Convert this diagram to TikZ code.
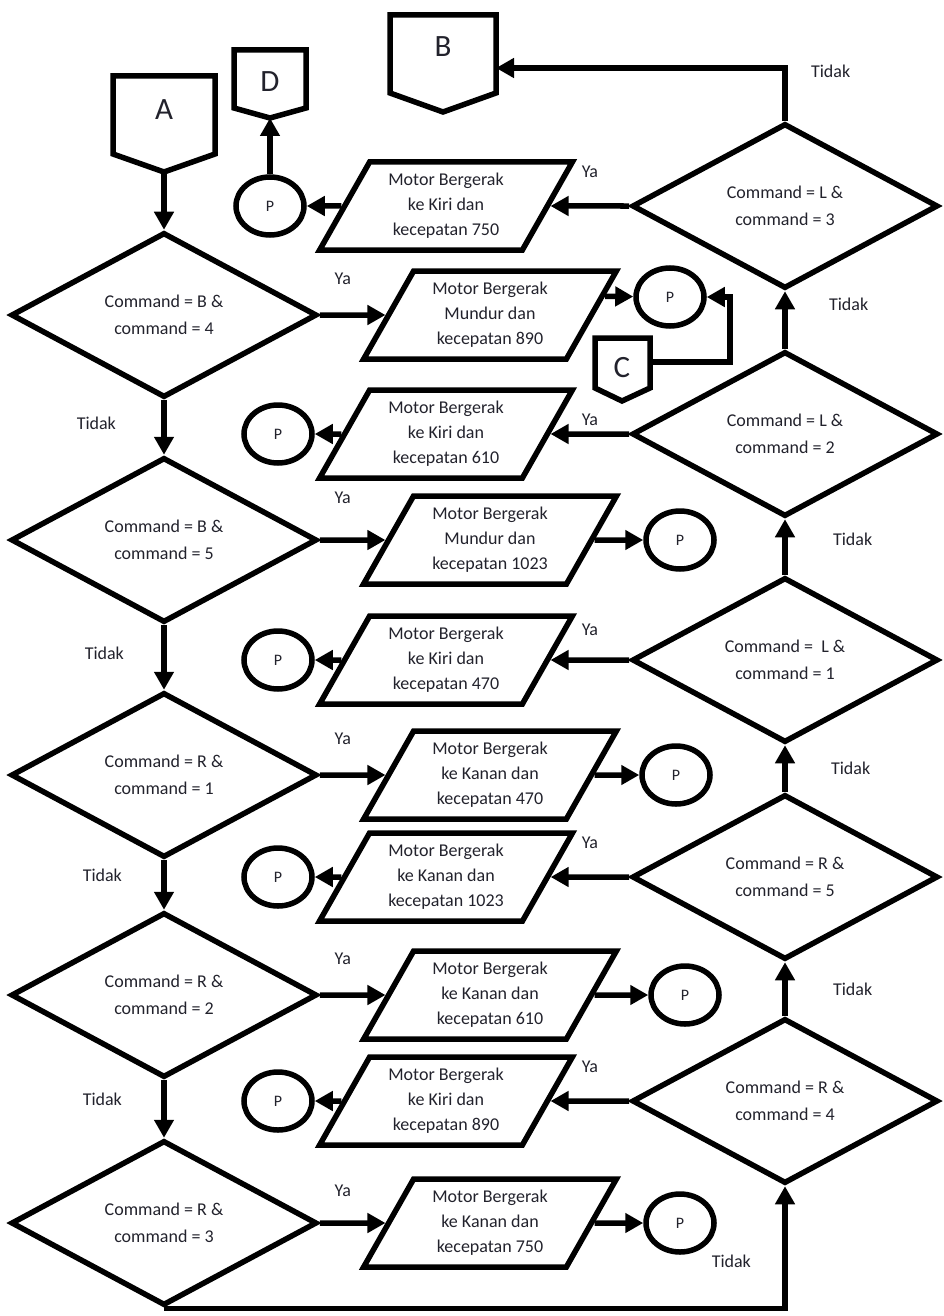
\documentclass[tikz,border=0pt]{standalone}
\usepackage{fontspec}
\setmainfont{Carlito}
\usetikzlibrary{arrows.meta,shapes.geometric,calc}
\definecolor{ink}{RGB}{34, 34, 44}

\tikzset{
  decision/.style={diamond, draw, line width=5.5pt, minimum width=306pt, minimum height=165pt,
                   inner sep=0pt, aspect=2, align=center, text=ink, font=\fontsize{18}{27}\selectfont},
  motor/.style={trapezium, trapezium left angle=60, trapezium right angle=120, trapezium stretches=true,
                draw, line width=5.5pt, minimum width=253pt, minimum height=88pt, inner sep=0pt,
                align=center, text=ink, font=\fontsize{18}{25}\selectfont},
  pnode/.style={ellipse, draw, line width=5.5pt, minimum width=68pt, minimum height=58pt,
                inner sep=0pt, text=ink, font=\fontsize{16}{16}\selectfont},
  offpage/.style={draw, line width=5.5pt, line join=miter},
  letter/.style={text=ink, font=\fontsize{31}{31}\selectfont},
  lbl/.style={text=ink, font=\fontsize{18}{18}\selectfont},
  arr/.style={line width=5.5pt, -{Triangle[length=18pt,width=19pt]}}
}

\begin{document}
\begin{tikzpicture}[x=1pt,y=-1pt]
            \useasboundingbox (0,0) rectangle (944,1316);

            \draw[offpage] (113, 76) -- (215, 76) -- (215,154) -- (164,172) -- (113,154) -- cycle;
            \node[letter] (A) at (164,110) {A};
            \coordinate (Atip) at (164,172);
            \draw[offpage] (234, 50) -- (306, 50) -- (306,108) -- (270,118) -- (234,108) -- cycle;
            \node[letter] (D) at (270, 82) {D};
            \coordinate (Dtip) at (270,118);
            \draw[offpage] (390, 15) -- (496, 15) -- (496, 93) -- (443,112) -- (390, 93) -- cycle;
            \node[letter] (B) at (443, 47) {B};
            \coordinate (Bin) at (496, 68);
            \draw[offpage] (595,338) -- (650,338) -- (650,388) -- (622,401) -- (595,388) -- cycle;
            \node[letter] (C) at (622,368) {C};
            \coordinate (Cout) at (650,362);

            \node[decision] (cB4) at (164, 315) {Command = B \&\\command = 4};
            \node[decision] (cB5) at (164, 540) {Command = B \&\\command = 5};
            \node[decision] (cR1) at (164, 775) {Command = R \&\\command = 1};
            \node[decision] (cR2) at (164, 995) {Command = R \&\\command = 2};
            \node[decision] (cR3) at (164,1223) {Command = R \&\\command = 3};
            \node[decision] (cL3) at (785, 206) {Command = L \&\\command = 3};
            \node[decision] (cL2) at (785, 434) {Command = L \&\\command = 2};
            \node[decision] (cL1) at (785, 660) {Command = \ L \&\\command = 1};
            \node[decision] (cR5) at (785, 877) {Command = R \&\\command = 5};
            \node[decision] (cR4) at (785,1101) {Command = R \&\\command = 4};

            \node[motor] (mB4) at (490, 315) {Motor Bergerak\\Mundur dan\\kecepatan 890};
            \node[motor] (mB5) at (490, 540) {Motor Bergerak\\Mundur dan\\kecepatan 1023};
            \node[motor] (mR1) at (490, 775) {Motor Bergerak\\ke Kanan dan\\kecepatan 470};
            \node[motor] (mR2) at (490, 995) {Motor Bergerak\\ke Kanan dan\\kecepatan 610};
            \node[motor] (mR3) at (490,1223) {Motor Bergerak\\ke Kanan dan\\kecepatan 750};
            \node[motor] (mL3) at (446, 206) {Motor Bergerak\\ke Kiri dan\\kecepatan 750};
            \node[motor] (mL2) at (446, 434) {Motor Bergerak\\ke Kiri dan\\kecepatan 610};
            \node[motor] (mL1) at (446, 660) {Motor Bergerak\\ke Kiri dan\\kecepatan 470};
            \node[motor] (mR5) at (446, 877) {Motor Bergerak\\ke Kanan dan\\kecepatan 1023};
            \node[motor] (mR4) at (446,1101) {Motor Bergerak\\ke Kiri dan\\kecepatan 890};

            \node[pnode] (pB4) at (670, 297) {P};
            \node[pnode] (pB5) at (680, 540) {P};
            \node[pnode] (pR1) at (676, 775) {P};
            \node[pnode] (pR2) at (685, 995) {P};
            \node[pnode] (pR3) at (680,1223) {P};
            \node[pnode] (pL3) at (270, 206) {P};
            \node[pnode] (pL2) at (278, 434) {P};
            \node[pnode] (pL1) at (278, 660) {P};
            \node[pnode] (pR5) at (278, 877) {P};
            \node[pnode] (pR4) at (278,1101) {P};

            \draw[arr] (Atip) -- (cB4);
            \draw[arr] (cB4) -- (cB5) node[lbl, midway, left=42pt, yshift=4pt] (t1) {Tidak};
            \draw[arr] (cB5) -- (cR1) node[lbl, midway, left=34pt, yshift=4pt] (t2) {Tidak};
            \draw[arr] (cR1) -- (cR2) node[lbl, midway, left=36pt, yshift=10pt] (t3) {Tidak};
            \draw[arr] (cR2) -- (cR3) node[lbl, midway, left=36pt, yshift=10pt] (t4) {Tidak};
            \draw[arr] (cR3.south) -| (cR4.south) node[lbl, pos=0.75, left=28pt, yshift=-14pt] (t5) {Tidak};
            \draw[arr] (cR4) -- (cR5) node[lbl, midway, right=42pt] (t6) {Tidak};
            \draw[arr] (cR5) -- (cL1) node[lbl, midway, right=40pt] (t7) {Tidak};
            \draw[arr] (cL1) -- (cL2) node[lbl, midway, right=42pt, yshift=8pt] (t8) {Tidak};
            \draw[arr] (cL2) -- (cL3) node[lbl, midway, right=38pt, yshift=16pt] (t9) {Tidak};
            \draw[arr] (cL3.north) |- (Bin) node[lbl, pos=0.5, right=20pt, yshift=-3pt] (t10) {Tidak};

            \draw[arr] (cB4) -- (mB4) node[lbl, pos=0.35, above=24pt] (y1) {Ya};
            \draw[arr] (cB5) -- (mB5) node[lbl, pos=0.35, above=30pt] (y2) {Ya};
            \draw[arr] (cR1) -- (mR1) node[lbl, pos=0.35, above=24pt] (y3) {Ya};
            \draw[arr] (cR2) -- (mR2) node[lbl, pos=0.35, above=24pt] (y4) {Ya};
            \draw[arr] (cR3) -- (mR3) node[lbl, pos=0.35, above=20pt] (y5) {Ya};
            \draw[arr] (cL3) -- (mL3) node[lbl, midway, above=22pt] (y6) {Ya};
            \draw[arr] (cL2) -- (mL2) node[lbl, midway, above=2pt] (y7) {Ya};
            \draw[arr] (cL1) -- (mL1) node[lbl, midway, above=18pt] (y8) {Ya};
            \draw[arr] (cR5) -- (mR5) node[lbl, midway, above=22pt] (y9) {Ya};
            \draw[arr] (cR4) -- (mR4) node[lbl, midway, above=22pt] (y10) {Ya};

            \draw[arr] ($(mB4.top right corner)!0.3!(mB4.bottom right corner)$) -- (pB4);
            \draw[arr] (mB5) -- (pB5);
            \draw[arr] (mR1) -- (pR1);
            \draw[arr] (mR2) -- (pR2);
            \draw[arr] (mR3) -- (pR3);
            \draw[arr] (mL3) -- (pL3);
            \draw[arr] (mL2) -- (pL2);
            \draw[arr] (mL1) -- (pL1);
            \draw[arr] (mR5) -- (pR5);
            \draw[arr] (mR4) -- (pR4);
            \draw[arr] (pL3) -- (Dtip);
            \draw[arr] (Cout) -- ++(80,0) |- (pB4);
\end{tikzpicture}
\end{document}
